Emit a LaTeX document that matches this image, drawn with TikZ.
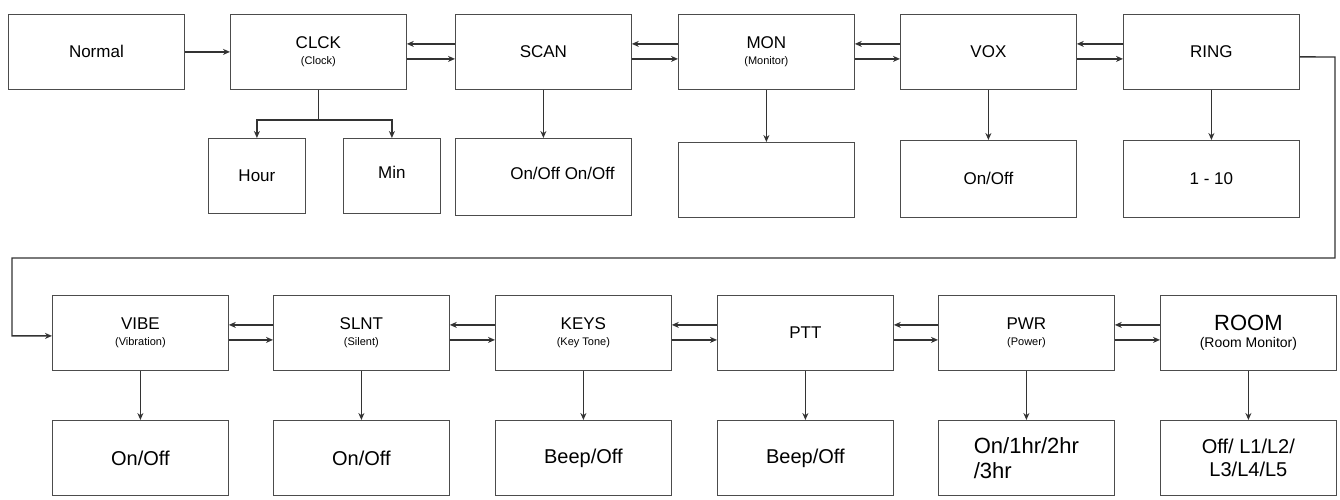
\documentclass[tikz,border=0pt]{standalone}
\usepackage{fontspec}
\setmainfont{Liberation Sans}
\usetikzlibrary{arrows.meta}
\newcommand\smf{\fontsize{11}{13}\selectfont}
\begin{document}
\begin{tikzpicture}[x=1pt,y=-1pt,
  box/.style={draw=black!70,line width=0.8pt,minimum width=176pt,minimum height=75pt,inner sep=2pt,align=center,font=\fontsize{17}{19}\selectfont},
  sbox/.style={box,minimum width=97pt},
  arr/.style={-{Stealth[length=7pt,width=6pt]},line width=1.4pt,draw=black!80}]
\useasboundingbox (0,0) rectangle (1340,499);
% top row
\node[box,anchor=north west] (norm) at (8,14) {Normal};
\node[box,anchor=north west] (clck) at (230,14) {CLCK\\[-3pt]{\smf (Clock)}};
\node[box,anchor=north west] (scan) at (455,14) {SCAN};
\node[box,anchor=north west] (mon) at (678,14) {MON\\[-3pt]{\smf (Monitor)}};
\node[box,anchor=north west] (vox) at (900,14) {VOX};
\node[box,anchor=north west] (ring) at (1123,14) {RING};
% subs
\node[sbox,anchor=north west] (hour) at (208,138) {Hour};
\node[sbox,anchor=north west] (min) at (343,138) {\raisebox{8pt}{Min}};
\node[box,anchor=north west,minimum height=77pt] (scans) at (455,138) {\raisebox{8pt}{\hspace*{38pt}On/Off On/Off}};
\node[box,anchor=north west] (mons) at (678,142) {};
\node[box,anchor=north west,minimum height=77pt] (voxs) at (900,140) {On/Off};
\node[box,anchor=north west,minimum height=77pt] (rings) at (1123,140) {1 - 10};
% bottom row
\node[box,anchor=north west] (vibe) at (52,295) {VIBE\\[-3pt]{\smf (Vibration)}};
\node[box,anchor=north west] (slnt) at (273,295) {SLNT\\[-3pt]{\smf (Silent)}};
\node[box,anchor=north west] (keys) at (495,295) {KEYS\\[-3pt]{\smf (Key Tone)}};
\node[box,anchor=north west] (ptt) at (717,295) {PTT};
\node[box,anchor=north west] (pwr) at (938,295) {PWR\\[-3pt]{\smf (Power)}};
\node[box,anchor=north west] (room) at (1160,295) {{\fontsize{22}{24}\selectfont ROOM}\\[-2pt]{\fontsize{14}{16}\selectfont (Room Monitor)}};
\node[box,anchor=north west,font=\fontsize{20}{22}\selectfont] (vibes) at (52,420) {On/Off};
\node[box,anchor=north west,font=\fontsize{20}{22}\selectfont] (slnts) at (273,420) {On/Off};
\node[box,anchor=north west,font=\fontsize{20}{22}\selectfont] (keyss) at (495,420) {Beep/Off};
\node[box,anchor=north west,font=\fontsize{20}{22}\selectfont] (ptts) at (717,420) {Beep/Off};
\node[box,anchor=north west,font=\fontsize{22}{25}\selectfont,align=left] (pwrs) at (938,420) {On/1hr/2hr\\/3hr};
\node[box,anchor=north west,font=\fontsize{20}{23}\selectfont] (rooms) at (1160,420) {Off/ L1/L2/\\L3/L4/L5};
% top connectors
\draw[arr] (norm.east) -- (clck.west);
\foreach \a/\b in {clck/scan,scan/mon,mon/vox,vox/ring}{
  \draw[arr] ([yshift=8pt]\b.west) -- ([yshift=8pt]\a.east);
  \draw[arr] ([yshift=-7pt]\a.east) -- ([yshift=-7pt]\b.west);
}
\draw[line width=1.4pt,draw=black!80] (clck.south) -- ++(0,30) coordinate (cj);
\draw[arr] (cj) -| (hour.north);
\draw[arr] (cj) -| (min.north);
\foreach \a/\b in {scan/scans,mon/mons,vox/voxs,ring/rings}
  \draw[arr] (\a.south) -- (\b.north);
% wrap
\coordinate (w1) at (1335,57);
\coordinate (w2) at (12,258);
\draw[arr] ([yshift=-5pt]ring.east) -- (w1) -- (1335,258) -- (w2) |- ([yshift=-3pt]vibe.west);
% bottom connectors
\foreach \a/\b in {vibe/slnt,slnt/keys,keys/ptt,ptt/pwr,pwr/room}{
  \draw[arr] ([yshift=8pt]\b.west) -- ([yshift=8pt]\a.east);
  \draw[arr] ([yshift=-7pt]\a.east) -- ([yshift=-7pt]\b.west);
}
\foreach \a/\b in {vibe/vibes,slnt/slnts,keys/keyss,ptt/ptts,pwr/pwrs,room/rooms}
  \draw[arr] (\a.south) -- (\b.north);
\end{tikzpicture}
\end{document}
